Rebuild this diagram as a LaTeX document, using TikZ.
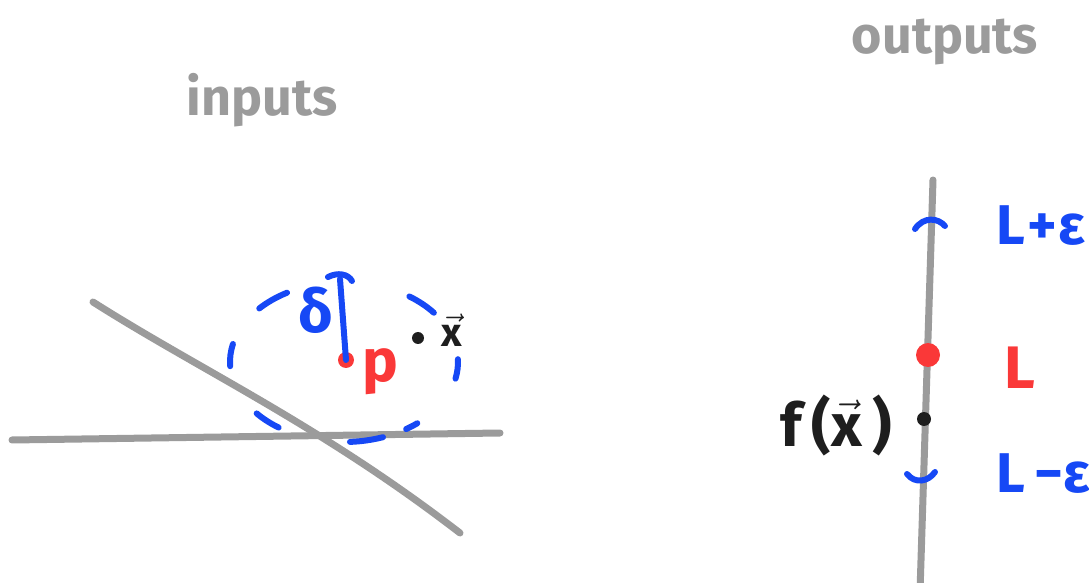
\documentclass[tikz,border=0pt]{standalone}
\usepackage{fontspec}
\setmainfont{Fira Sans}
\usepackage{amsmath}

\definecolor{penblue}{RGB}{22,72,245}
\definecolor{penred}{RGB}{250,56,56}
\definecolor{pengray}{RGB}{155,155,155}
\definecolor{penblack}{RGB}{30,30,30}

\begin{document}
\begin{tikzpicture}[
  x=0.5pt, y=-0.5pt,
  axis/.style={draw=pengray, line width=3.5pt, line cap=round},
  stroke/.style={draw=penblue, line width=3pt, line cap=round},
  dot/.style={circle, inner sep=0pt, minimum size=7pt},
  title/.style={text=pengray, font=\bfseries\fontsize{26}{30}\selectfont},
  lbl/.style={font=\bfseries\fontsize{30}{34}\selectfont, inner sep=0pt}
]
  \useasboundingbox (0,0) rectangle (1089,583);
  \clip (0,0) rectangle (1089,583);

  % titles
  \node[title] (inputs) at (262,100) {inputs};
  \node[title] (outputs) at (945,42) {outputs};

  % input space
  \draw[axis] (12,440) -- (500,433);
  \draw[axis] (93,302) .. controls (200,370) and (320,425) .. (460,533);
  \coordinate (ball) at (344,362);
  \foreach \a/\b in {222/240, 305/322, 177/193, -2/12, 125/140, 70/87, 50/57}
    \draw[stroke] (ball) ++(\a:114 and 80) arc[start angle=\a, end angle=\b, x radius=114, y radius=80];

  \node[dot, fill=penred, minimum size=8pt] (p) at (346,360) {};
  \coordinate (dtop) at (340,279);
  \draw[stroke] (p.center) -- (dtop);
  \draw[stroke] (328,277) .. controls (338,272) and (348,274) .. (352,281);
  \node[lbl, text=penblue] (delta) at (316,310) {δ};
  \node[lbl, text=penred] (plbl) at (380,372) {p};
  \node[dot, fill=penblack, minimum size=6pt] (x) at (418,338) {};
  \node[lbl, text=penblack, font=\bfseries\fontsize{20}{24}\selectfont] (xlbl) at (452,330) {$\vec{\mbox{x}}$};

  % output space
  \coordinate (atop) at (933,180);
  \coordinate (abot) at (920,592);
  \draw[axis] (atop) -- (abot);
  \draw[stroke] (915,229) .. controls (924,216) and (938,218) .. (945,226);
  \draw[stroke] (907,474) .. controls (915,484) and (928,482) .. (935,472);
  \node[dot, fill=penred, minimum size=12pt] (L) at (928,355) {};
  \node[dot, fill=penblack, minimum size=7pt] (fx) at (924,419) {};

  \node[lbl, text=penblue, anchor=west, font=\bfseries\fontsize{28}{32}\selectfont] (upper) at (996,226) {L{\kern1pt}+{\kern1pt}ε};
  \node[lbl, text=penred] (Llbl) at (1020,368) {L};
  \node[lbl, text=penblue, anchor=west, font=\bfseries\fontsize{28}{32}\selectfont] (lower) at (996,474) {L\,−ε};
  \node[lbl, text=penblack, anchor=east] (fxlbl) at (892,425) {f\,($\vec{\mbox{x}}$\,)};
\end{tikzpicture}
\end{document}
